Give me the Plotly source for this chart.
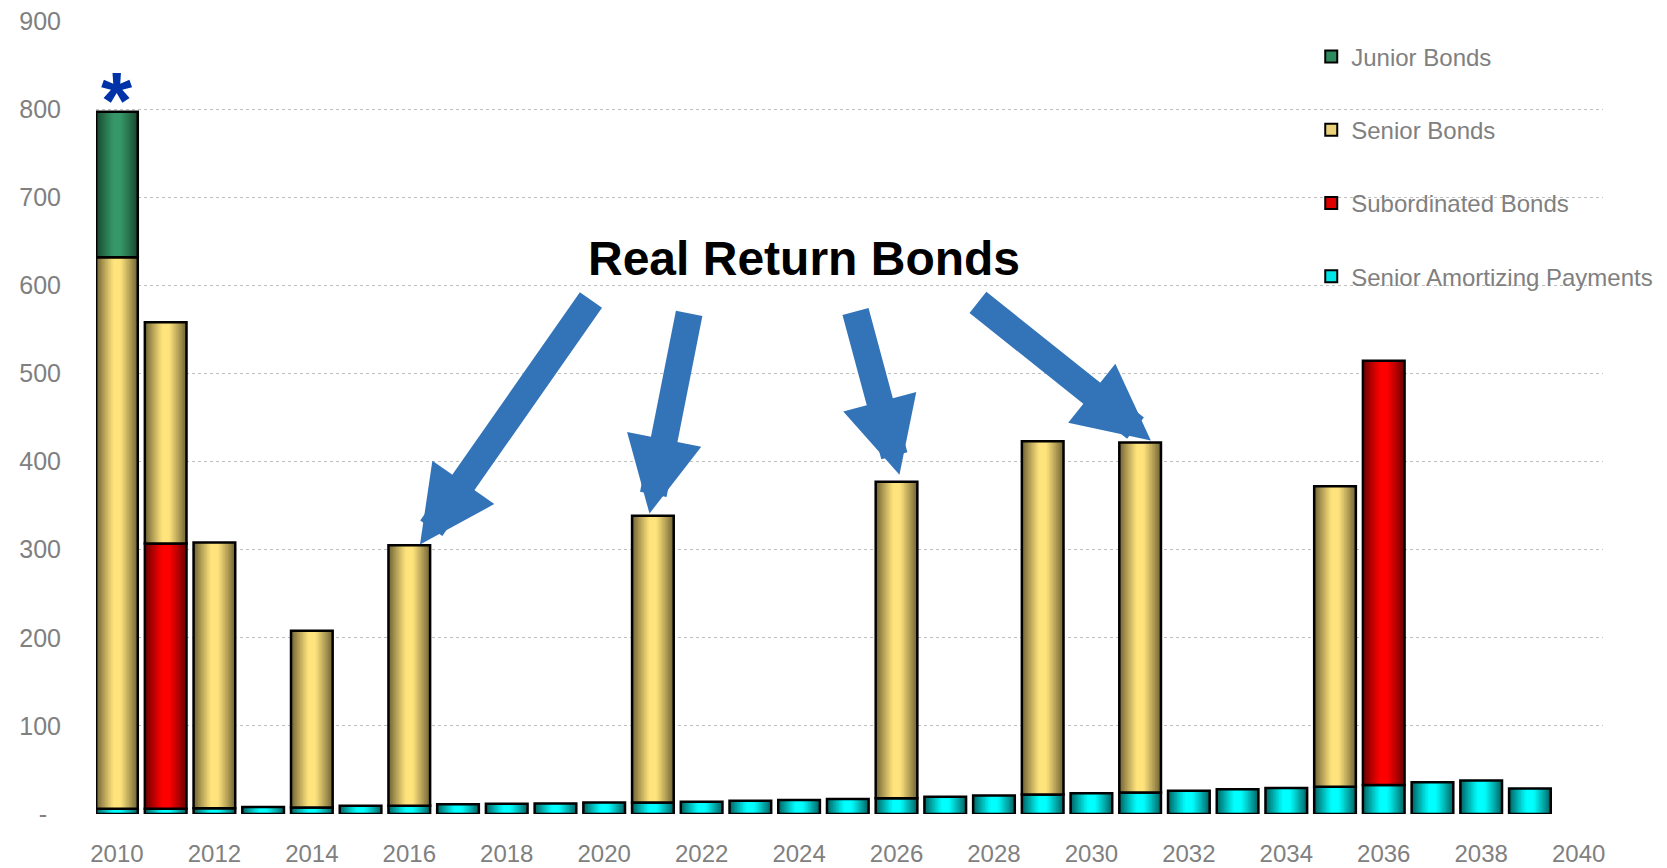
import plotly.graph_objects as go

# ---------------- data ----------------
years = list(range(2010, 2040))
senior_amortizing = [6, 6, 6.5, 8, 7.5, 9.5, 9.5, 11, 11.5, 12, 13, 13, 14, 15, 16,
                     17, 18, 19.5, 21, 22, 23.5, 24.5, 26.5, 28, 29.5, 31, 33, 36, 38, 29]
subordinated = [0, 301, 0, 0, 0, 0, 0, 0, 0, 0, 0, 0, 0, 0, 0,
                0, 0, 0, 0, 0, 0, 0, 0, 0, 0, 0, 481.5, 0, 0, 0]
senior = [626, 251, 301.5, 0, 200.5, 0, 295.5, 0, 0, 0, 0, 325.5, 0, 0, 0,
          0, 359, 0, 0, 401, 0, 397, 0, 0, 0, 341, 0, 0, 0, 0]
junior = [165, 0, 0, 0, 0, 0, 0, 0, 0, 0, 0, 0, 0, 0, 0,
          0, 0, 0, 0, 0, 0, 0, 0, 0, 0, 0, 0, 0, 0, 0]
x_ticks = list(range(2010, 2041, 2))
y_ticks = [0, 100, 200, 300, 400, 500, 600, 700, 800, 900]
y_ticktext = ["-\u00a0\u00a0", "100", "200", "300", "400", "500", "600", "700", "800", "900"]
annotation_text = "<b>Real Return Bonds</b>"

# ---------------- style ----------------
BAR_W = 0.855
N_LAYERS = 14
GRAY = "#808080"
FONT = "Arial, Liberation Sans, sans-serif"
series = [
    ("Senior Amortizing Payments", senior_amortizing, (0, 255, 255), (0, 95, 95), "#00E5E5"),
    ("Subordinated Bonds", subordinated, (255, 0, 0), (105, 0, 0), "#E00000"),
    ("Senior Bonds", senior, (255, 227, 124), (110, 97, 52), "#EBD27A"),
    ("Junior Bonds", junior, (54, 152, 104), (24, 70, 46), "#2E8B5E"),
]


def lerp(c1, c2, g):
    return "rgb(%d,%d,%d)" % tuple(round(a + (b - a) * g) for a, b in zip(c1, c2))


fig = go.Figure()
base = [0.0] * len(years)
for name, vals, center, edge, _ in series:
    ys = [v if v > 0 else None for v in vals]
    bs = [b if v > 0 else None for b, v in zip(base, vals)]
    for k in range(N_LAYERS):
        frac = 1 - k / N_LAYERS
        t = frac - 0.5 / N_LAYERS
        g = max(0.0, (t - 0.15) / 0.85) ** 1.1
        fig.add_trace(go.Bar(x=years, y=ys, base=bs, width=BAR_W * frac,
                             marker=dict(color=lerp(center, edge, g), line=dict(width=0)),
                             showlegend=False, hoverinfo="skip"))
    fig.add_trace(go.Bar(x=years, y=ys, base=bs, width=BAR_W, name=name,
                         marker=dict(color="rgba(0,0,0,0)", line=dict(color="black", width=2.5)),
                         showlegend=False))
    base = [b + v for b, v in zip(base, vals)]

totals = dict(zip(years, base))

# legend-only entries (top to bottom)
for name, vals, center, edge, swatch in reversed(series):
    fig.add_trace(go.Bar(x=[None], y=[None], name=name, legendgroup=name,
                         marker=dict(color=swatch, line=dict(color="black", width=2))))

# trace that anchors the labelled value axis
fig.add_trace(go.Scatter(x=[None], y=[None], yaxis="y2", showlegend=False, hoverinfo="skip"))

# arrows: tail (ax, ay) -> tip (x, y)
arrows = [
    (2019.75, 585, 2016.22, 306),
    (2021.75, 570, 2020.93, 341),
    (2025.15, 572, 2026.06, 385),
    (2027.64, 582, 2031.22, 424),
]
for ax, ay, x, y in arrows:
    fig.add_annotation(x=x, y=y, ax=ax, ay=ay, xref="x", yref="y", axref="x", ayref="y",
                       text="", showarrow=True, arrowhead=2, arrowsize=0.56,
                       arrowwidth=27, arrowcolor="#3374B9", standoff=0)

fig.add_annotation(x=2024.1, y=631, xref="x", yref="y", text=annotation_text, showarrow=False,
                   font=dict(family=FONT, size=48, color="black"),
                   xanchor="center", yanchor="middle")
fig.add_annotation(x=2010, y=totals[2010], xref="x", yref="y", text="<b>*</b>", showarrow=False,
                   font=dict(family=FONT, size=80, color="#0033A8"),
                   xanchor="center", yanchor="middle", yshift=11)

fig.update_layout(
    width=1667, height=868,
    margin=dict(l=96, r=64, t=21, b=54, autoexpand=False),
    paper_bgcolor="white", plot_bgcolor="white",
    barmode="overlay",
    font=dict(family=FONT, color=GRAY),
    showlegend=True,
    legend=dict(x=0.8064, y=0.983, xanchor="left", yanchor="top",
                font=dict(size=24, color=GRAY, family=FONT),
                tracegroupgap=39, bgcolor="rgba(0,0,0,0)"),
    xaxis=dict(range=[2009.57, 2040.5], tickvals=x_ticks, showgrid=False, zeroline=False,
               showline=False, ticks="", tickfont=dict(size=24, color=GRAY),
               ticklabelstandoff=23, automargin=False),
    yaxis=dict(range=[0, 900], tickvals=y_ticks[1:-1], showticklabels=False,
               showgrid=True, gridcolor="#BFBFBF", griddash="dot", gridwidth=1,
               zeroline=False, showline=False, ticks="", automargin=False),
    yaxis2=dict(range=[0, 900], overlaying="y", side="left", tickvals=y_ticks,
                ticktext=y_ticktext, showgrid=False, zeroline=False, showline=False,
                ticks="", tickfont=dict(size=25, color=GRAY), ticklabelstandoff=34,
                automargin=False),
)

fig.write_html("out.html", config={"displayModeBar": False},
               post_script="document.body.style.margin='0';")
